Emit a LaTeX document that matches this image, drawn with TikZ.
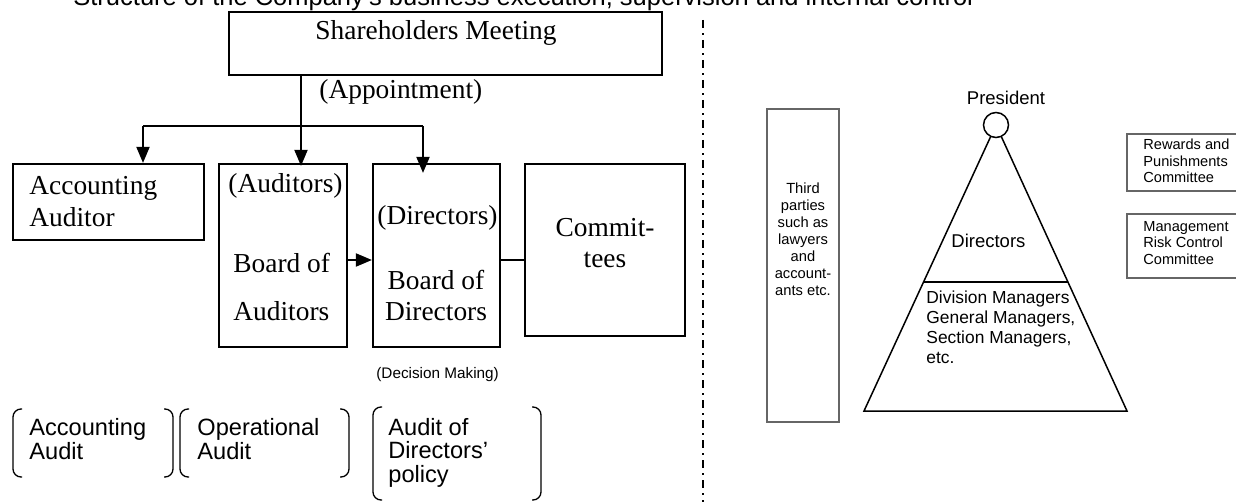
\documentclass[tikz,border=0pt]{standalone}
\usepackage{fontspec}
\setmainfont{Liberation Serif}
\setsansfont{Liberation Sans}
\usetikzlibrary{arrows.meta,fit}

\begin{document}
\begin{tikzpicture}[x=0.5pt,y=-0.5pt,
  box/.style={draw,line width=1.1pt,inner sep=0pt,fit={#1}},
  thinbox/.style={draw=black!60,line width=0.6pt,inner sep=0pt,fit={#1}},
  rm/.style={inner sep=0pt,anchor=base west,align=left,font=\fontsize{13.7}{16}\selectfont},
  sf/.style={inner sep=0pt,anchor=base west,align=left,font=\sffamily\fontsize{#1}{#1}\selectfont},
  arr/.style={-{Triangle[length=8pt,width=6.5pt]},line width=1pt},
]
\useasboundingbox (0,0) rectangle (1236,502);
\node[sf=12.75] (title) at (73,6) {Structure of the Company’s business execution, supervision and internal control};

\node[box={(229,12) (662,75)}] (sm) {};
\node[rm] at (315,40) {Shareholders Meeting};
\node[rm] (appt) at (319,99) {(Appointment)};

\node[box={(13,164) (204,240)}] (accAud) {};
\node[rm] at (29,227) {Accounting\\Auditor};
\node[box={(219,164) (347,347)}] (boa) {};
\node[rm] at (228,193) {(Auditors)};
\node[rm,font=\fontsize{13.7}{24.5}\selectfont] at (233,321) {Board of\\Auditors};
\node[box={(373,164) (500,347)}] (bod) {};
\node[rm] at (377,225) {(Directors)};
\node[rm,anchor=base,align=center] at (436,321) {Board of\\Directors};
\node[box={(525,164) (685,336)}] (com) {};
\node[rm,anchor=base,align=center] at (605,268) {Commit-\\tees};
\node[sf=7.65] (decision) at (376,378) {(Decision Making)};

\coordinate (hub) at (301,126);
\coordinate (hubL) at (143,126);
\coordinate (hubR) at (423,126);
\draw[arr,shorten >=-1.5pt] (sm.south -| hub) -- (hub |- boa.north);
\draw[line width=1pt] (hubL) -- (hubR);
\draw[arr] (hubL) -- (hubL |- accAud.north);
\draw[arr,shorten >=-5pt] (hubR) -- (hubR |- bod.north);
\draw[arr] (boa.east |- 0,260) -- (bod.west |- 0,260);
\draw[line width=1pt] (bod.east |- 0,260) -- (com.west |- 0,260);

\foreach \l/\r/\t/\b in {13/173/409/477,180/349/409/477,373/541/407/500}{
  \draw[line width=0.65pt,rounded corners=4pt] (\l+9,\t) -- (\l,\t) -- (\l,\b) -- (\l+9,\b);
  \draw[line width=0.65pt,rounded corners=4pt] (\r-9,\t) -- (\r,\t) -- (\r,\b) -- (\r-9,\b);
}
\node[sf=11.8,font=\sffamily\fontsize{11.8}{11.75}\selectfont] (accAudit) at (29,459) {Accounting\\Audit};
\node[sf=11.8,font=\sffamily\fontsize{11.8}{11.75}\selectfont] (opAudit) at (197,459) {Operational\\Audit};
\node[sf=11.8,font=\sffamily\fontsize{11.8}{11.75}\selectfont] (dirAudit) at (388,482) {Audit of\\Directors’\\policy};

\draw[line width=0.7pt,dash pattern=on 4pt off 2.7pt on 0.6pt off 2.7pt] (703,20) -- (703,502);

\node[thinbox={(767,109) (839,422)}] (third) {};
\node[sf=7.35,anchor=base,align=center,font=\sffamily\fontsize{7.35}{8.5}\selectfont] at (803,295) {Third\\parties\\such as\\lawyers\\and\\account-\\ants etc.};

\coordinate (apex) at (996,125);
\draw[line width=0.75pt] (apex) -- (864,411) -- (1127,411) -- cycle;
\draw[line width=0.75pt] (923.5,282) -- (1068,282);
\node[circle,draw,line width=0.75pt,fill=white,minimum size=12.5pt,inner sep=0pt] (pres) at (apex) {};
\node[sf=9.25,anchor=base] at (1006,105) {President};
\node[sf=9.25] (dirs) at (951,248) {Directors};
\node[sf=8.7,font=\sffamily\fontsize{8.7}{9.85}\selectfont] (mgrs) at (926,363) {Division Managers\\General Managers,\\Section Managers,\\etc.};

\node[thinbox={(1127,134) (1260,191)}] (rew) {};
\node[sf=7.3,font=\sffamily\fontsize{7.3}{8.25}\selectfont] at (1143,183) {Rewards and\\Punishments\\Committee};
\node[thinbox={(1127,214) (1260,278)}] (risk) {};
\node[sf=7.3,font=\sffamily\fontsize{7.3}{8.25}\selectfont] at (1143,264) {Management\\Risk Control\\Committee};
\end{tikzpicture}
\end{document}
